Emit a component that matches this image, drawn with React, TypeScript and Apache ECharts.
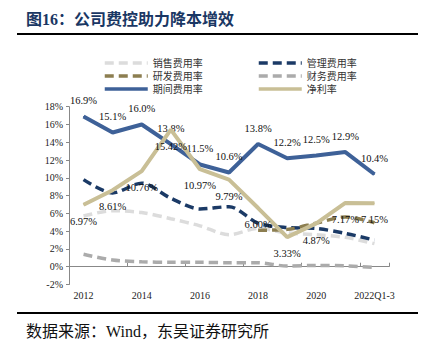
import React, { useEffect, useRef } from "react";
import * as echarts from "echarts";

const categories = ["2012", "2013", "2014", "2015", "2016", "2017", "2018", "2019", "2020", "2021", "2022Q1-3"];
const salesRate = [5.7, 6.3, 6.1, 5.4, 4.6, 3.6, 4.3, 3.8, 3.6, 3.3, 2.6];
const mgmtRate = [9.8, 8.3, 9.4, 7.7, 6.5, 6.75, 4.9, 4.4, 4.3, 3.75, 3.0];
const rdRate = ["-", "-", "-", "-", "-", "-", 4.1, 4.2, 4.9, 5.6, 4.95];
const finRate = [1.4, 0.75, 0.56, 0.5, 0.5, 0.45, 0.45, 0.07, 0.15, 0.1, -0.08];
const periodRate = [16.9, 15.1, 16.0, 13.8, 11.5, 10.6, 13.8, 12.2, 12.5, 12.9, 10.4];
const netMargin = [6.97, 8.61, 10.76, 15.42, 10.97, 9.79, 6.6, 3.33, 4.87, 7.17, 7.15];
const yTicks = { min: -2, max: 18, interval: 2 };

const SERIF = "'Liberation Serif', 'Times New Roman', 'Noto Sans CJK SC', serif";

export default function App() {
  const ref = useRef<HTMLDivElement>(null);
  useEffect(() => {
    if (!ref.current) return;
    const chart = echarts.init(ref.current, undefined, { renderer: "svg" });
    const dashed = (name: string, data: any[], color: string, z: number) => ({
      name,
      type: "line",
      data,
      symbol: "none",
      smooth: 0.3,
      z,
      lineStyle: { color, width: 3.5, type: [9, 5] },
      itemStyle: { color },
    });
    const legendBase = {
      orient: "vertical",
      top: 53,
      itemWidth: 43,
      itemHeight: 10,
      itemGap: 3,
      itemStyle: { opacity: 0 },
      lineStyle: { width: 3.5 },
      textStyle: { fontSize: 10, color: "#333", fontFamily: SERIF },
    };
    chart.setOption({
      animation: false,
      textStyle: { fontFamily: SERIF },
      grid: { left: 69, right: 42, top: 106.7, bottom: 68.5 },
      legend: [
        { ...legendBase, left: 98, data: ["销售费用率", "研发费用率", "期间费用率"] },
        { ...legendBase, left: 252, data: ["管理费用率", "财务费用率", "净利率"] },
      ],
      xAxis: {
        type: "category",
        data: categories,
        boundaryGap: true,
        axisLine: { onZero: true, lineStyle: { color: "#888", width: 1 } },
        axisTick: { show: true, inside: true, length: 4, lineStyle: { color: "#888" } },
        axisLabel: { interval: 1, fontSize: 10, color: "#222", margin: 6, fontFamily: SERIF },
        splitLine: { show: false },
      },
      yAxis: {
        type: "value",
        min: yTicks.min,
        max: yTicks.max,
        interval: yTicks.interval,
        axisLine: { show: true, lineStyle: { color: "#888", width: 1 } },
        axisTick: { show: true, length: 3, lineStyle: { color: "#888" } },
        axisLabel: { formatter: "{value}%", fontSize: 10, color: "#222", margin: 6, fontFamily: SERIF },
        splitLine: { show: false },
      },
      series: [
        dashed("销售费用率", salesRate, "#dcdcdc", 1),
        dashed("财务费用率", finRate, "#ababab", 2),
        dashed("研发费用率", rdRate, "#8c7e50", 4),
        dashed("管理费用率", mgmtRate, "#1b3a66", 3),
        {
          name: "期间费用率",
          type: "line",
          data: periodRate,
          symbol: "circle",
          symbolSize: 1,
          showSymbol: true,
          z: 5,
          lineStyle: { color: "#3e6198", width: 4 },
          itemStyle: { color: "#3e6198" },
          label: {
            show: true,
            position: "top",
            distance: 10,
            fontSize: 10.5,
            color: "#111",
            fontFamily: SERIF,
            formatter: (p: any) => Number(p.value).toFixed(1) + "%",
          },
        },
        {
          name: "净利率",
          type: "line",
          data: netMargin,
          symbol: "circle",
          symbolSize: 1,
          showSymbol: true,
          z: 6,
          lineStyle: { color: "#c9bf96", width: 4 },
          itemStyle: { color: "#c9bf96" },
          label: {
            show: true,
            position: "bottom",
            distance: 11,
            fontSize: 10.5,
            color: "#111",
            fontFamily: SERIF,
            formatter: (p: any) => Number(p.value).toFixed(2) + "%",
          },
        },
      ],
      graphic: [
        {
          type: "text",
          left: 26,
          top: 11,
          style: {
            text: "图16：公司费控助力降本增效",
            fontSize: 16,
            fontWeight: "bold",
            fill: "#1a3764",
            fontFamily: SERIF,
          },
        },
        {
          type: "line",
          shape: { x1: 17, y1: 34, x2: 418, y2: 34 },
          style: { stroke: "#000", lineWidth: 2 },
        },
        {
          type: "line",
          shape: { x1: 17, y1: 313, x2: 418, y2: 313 },
          style: { stroke: "#000", lineWidth: 2 },
        },
        {
          type: "text",
          left: 26,
          top: 323,
          style: {
            text: "数据来源：Wind，东吴证券研究所",
            fontSize: 16,
            fill: "#111",
            fontFamily: SERIF,
          },
        },
      ],
    });
    return () => chart.dispose();
  }, []);
  return <div ref={ref} style={{ width: 431, height: 353, margin: -8 }} />;
}
